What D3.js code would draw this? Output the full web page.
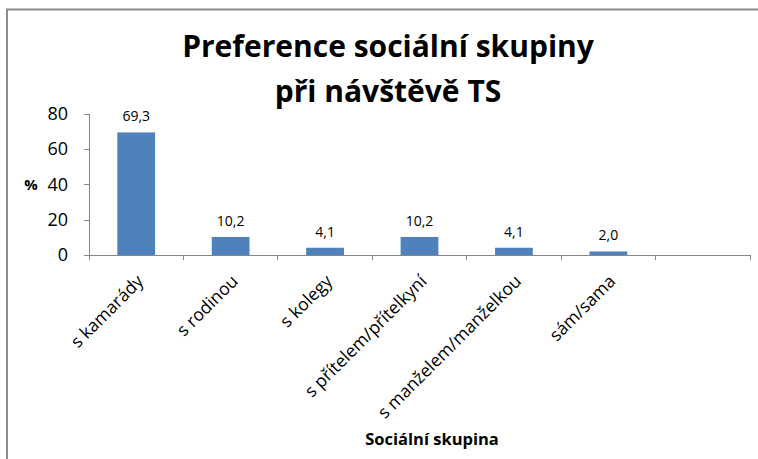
<!DOCTYPE html>
<meta charset="utf-8">
<style>
    body {
        margin: 0;
        background-color: #fff;
    }
    text {
        font-family: "Open Sans", Lato, sans-serif;
        fill: #000;
    }
    .axis path,
    .axis line {
        fill: none;
        stroke: #868686;
        stroke-width: 1px;
        shape-rendering: crispEdges;
    }
    .bar {
        fill: #4F81BD;
    }
</style>
<body>
<svg width="758" height="459"></svg>
<script src="https://d3js.org/d3.v7.min.js"></script>
<script>
    // data
    var categories = ["s kamarády", "s rodinou", "s kolegy", "s přítelem/přítelkyní", "s manželem/manželkou", "sám/sama", ""];
    var values = [69.3, 10.2, 4.1, 10.2, 4.1, 2.0, null];
    var yTicks = [0, 20, 40, 60, 80];
    var titleLines = ["Preference sociální skupiny", "při návštěvě TS"];

    var svg = d3.select("svg"),
        plot = {left: 89, right: 750, top: 113.5, bottom: 255};

    // chart area border
    svg.append("rect")
        .attr("x", 7)
        .attr("y", 9.5)
        .attr("width", 800)
        .attr("height", 500)
        .attr("fill", "none")
        .attr("stroke", "#8c8c8c")
        .attr("stroke-width", 2);

    var x = d3.scaleBand()
        .domain(categories)
        .range([plot.left, plot.right])
        .paddingInner(0.6)
        .paddingOuter(0.3);

    var y = d3.scaleLinear()
        .domain([0, 80])
        .range([plot.bottom, plot.top]);

    // title
    svg.append("g").selectAll("text")
        .data(titleLines)
        .enter().append("text")
        .attr("x", 388)
        .attr("y", function(d, i) { return 57 + i * 45; })
        .attr("text-anchor", "middle")
        .style("font-size", "30px")
        .style("font-weight", "bold")
        .text(function(d) { return d; });

    // y axis
    var yAxis = svg.append("g")
        .attr("class", "axis")
        .attr("transform", "translate(" + plot.left + ",0)")
        .call(d3.axisLeft(y).tickValues(yTicks).tickSize(5).tickPadding(16).tickSizeOuter(0));
    yAxis.selectAll("text")
        .style("font-size", "18px")
        .style("font-family", "'Open Sans', sans-serif")
        .attr("fill", "#000");

    svg.append("text")
        .attr("x", 31)
        .attr("y", y(40))
        .attr("dy", "0.35em")
        .attr("text-anchor", "middle")
        .style("font-size", "15px")
        .style("font-weight", "bold")
        .text("%");

    // x axis: baseline with ticks on category boundaries
    var step = x.step();
    var xAxis = svg.append("g").attr("class", "axis");
    xAxis.append("line")
        .attr("x1", plot.left).attr("x2", plot.right)
        .attr("y1", y(0)).attr("y2", y(0));
    xAxis.selectAll(".tick-b")
        .data(d3.range(categories.length + 1))
        .enter().append("line")
        .attr("class", "tick-b")
        .attr("x1", function(i) { return plot.left + i * step; })
        .attr("x2", function(i) { return plot.left + i * step; })
        .attr("y1", y(0))
        .attr("y2", y(0) + 5);

    svg.append("g").selectAll("text")
        .data(categories)
        .enter().append("text")
        .attr("transform", function(d) {
            return "translate(" + (x(d) + x.bandwidth() / 2 + 4) + "," + (y(0) + 23) + ") rotate(-45)";
        })
        .attr("text-anchor", "end")
        .attr("dy", "0.35em")
        .style("font-size", "17.5px")
        .text(function(d) { return d; });

    // bars
    var barData = categories.map(function(c, i) { return {cat: c, v: values[i]}; })
        .filter(function(d) { return d.v !== null; });

    svg.selectAll(".bar")
        .data(barData)
        .enter().append("rect")
        .attr("class", "bar")
        .attr("x", function(d) { return x(d.cat); })
        .attr("width", x.bandwidth())
        .attr("y", function(d) { return y(d.v); })
        .attr("height", function(d) { return y(0) - y(d.v); });

    // data labels
    svg.selectAll(".lbl")
        .data(barData)
        .enter().append("text")
        .attr("class", "lbl")
        .attr("x", function(d) { return x(d.cat) + x.bandwidth() / 2; })
        .attr("y", function(d) { return y(d.v) - 11; })
        .attr("text-anchor", "middle")
        .style("font-size", "14px")
        .text(function(d) { return d3.format(".1f")(d.v).replace(".", ","); });

    // x axis title
    svg.append("text")
        .attr("x", 432)
        .attr("y", 445)
        .attr("text-anchor", "middle")
        .style("font-size", "16.5px")
        .style("font-weight", "bold")
        .text("Sociální skupina");
</script>
</body>
